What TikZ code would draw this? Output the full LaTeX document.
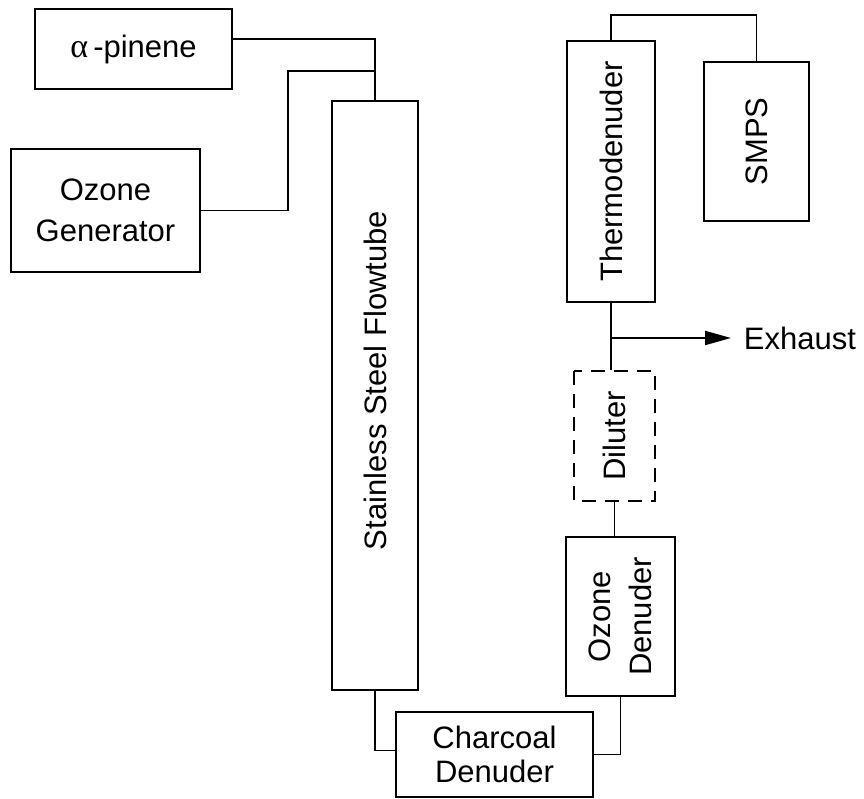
\documentclass[tikz,border=0pt]{standalone}
\usepackage{fontspec}
\setmainfont{Liberation Sans}
\newfontfamily\greekfont{Liberation Serif}
\usetikzlibrary{arrows.meta, positioning, calc}

\begin{document}
\begin{tikzpicture}[x=1pt, y=-1pt, line width=1.9pt,
  font=\fontsize{31}{41}\selectfont,
  box/.style={draw, rectangle, inner sep=0pt, align=center},
  vbox/.style={box, rotate=90}]
\useasboundingbox (0,0) rectangle (864,799);

% sources (rotated boxes: east = top, west = bottom)
\node[box, minimum width=197, minimum height=80] (pinene) at (133.5,49) {{\greekfont\fontsize{34}{34}\selectfont α}\,-pinene};
\node[box, minimum width=189, minimum height=123] (ozgen) at (105.5,210.5) {Ozone\\Generator};
\node[vbox, minimum width=589, minimum height=86] (flowtube) at (375,395.5) {\hspace{30pt}Stainless Steel Flowtube};
\node[box, minimum width=197, minimum height=85, font=\fontsize{31}{34}\selectfont] (charcoal) at (494.5,754.5) {Charcoal\\Denuder};

% sampling line
\node[vbox, minimum width=159, minimum height=109] (ozden) at (620.5,616.5) {Ozone\\Denuder};
\node[vbox, dash pattern=on 14pt off 9pt, minimum width=130, minimum height=81] (diluter) at (614.5,436) {Diluter};
\node[vbox, minimum width=261, minimum height=88] (thermo) at (611,171.5) {Thermodenuder};
\node[vbox, minimum width=159, minimum height=105] (smps) at (756.5,141.5) {SMPS};
\node[anchor=west, inner xsep=12pt] (exhaust) at (731,338) {Exhaust};

\coordinate (o3in) at (flowtube.east |- 0,71);
\coordinate (tap) at (thermo.west |- exhaust.west);

\draw ([yshift=10pt]pinene.east) -| (flowtube.east);
\draw (ozgen.east) -| (288,71) -- (o3in);
\draw (flowtube.west) |- ([yshift=4pt]charcoal.west);
\draw (ozden.west) |- (charcoal.east);
\draw (diluter.west) -- (diluter.west |- ozden.east);
\draw (thermo.west) -- (thermo.west |- diluter.east);
\draw[-{Triangle[length=26pt, width=14pt]}] (tap) -- (exhaust.west);
\draw (thermo.east) -- ++(0,-25) -| (smps.east);
\end{tikzpicture}
\end{document}
